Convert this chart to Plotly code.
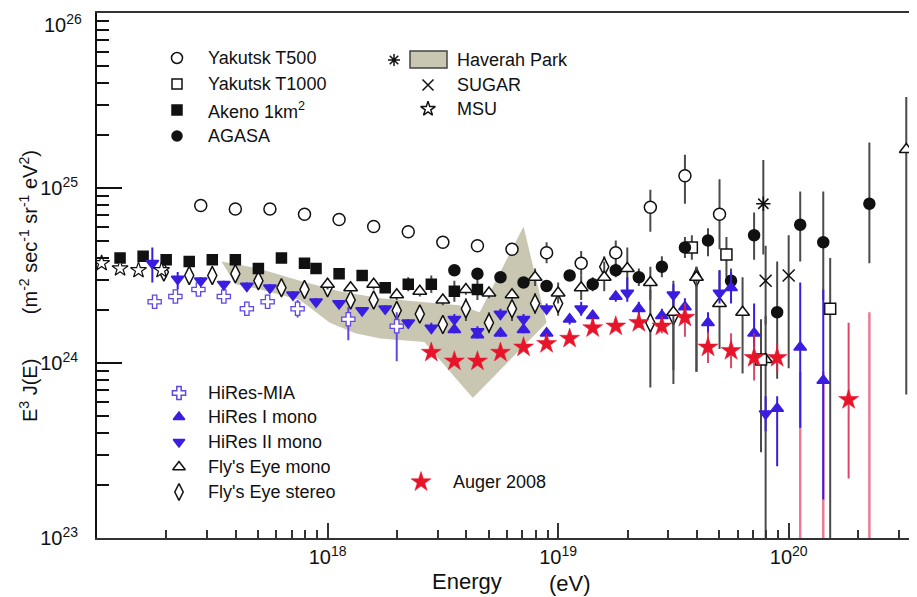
import numpy as np
import plotly.graph_objects as go

# 宇宙線能譜 E^3 J(E)，數值以 log10 儲存

# Yakutsk T500
yak500_lgE = [17.45, 17.60, 17.75, 17.90, 18.05, 18.20, 18.35, 18.50, 18.65, 18.80, 18.95, 19.10, 19.25, 19.40, 19.55, 19.70]
yak500_lgJ = [24.90, 24.88, 24.88, 24.85, 24.82, 24.78, 24.75, 24.69, 24.67, 24.65, 24.63, 24.57, 24.63, 24.89, 25.07, 24.85]
yak500_eu = [0.01, 0.01, 0.01, 0.01, 0.01, 0.01, 0.01, 0.01, 0.02, 0.03, 0.06, 0.07, 0.07, 0.10, 0.12, 0.20]
yak500_ed = [0.01, 0.01, 0.01, 0.01, 0.01, 0.01, 0.01, 0.01, 0.02, 0.03, 0.06, 0.07, 0.07, 0.14, 0.16, 0.20]

# Yakutsk T1000
yak1000_lgE = [19.58, 19.73, 19.88, 20.18]
yak1000_lgJ = [24.66, 24.62, 24.02, 24.31]
yak1000_eu = [0.07, 0.10, 0.23, 0.29]
yak1000_ed = [0.07, 0.13, 0.53, 1.40]

# Akeno 1km2
akeno_lgE = [17.10, 17.20, 17.30, 17.40, 17.50, 17.60, 17.70, 17.80, 17.90, 17.95, 18.05, 18.15, 18.25, 18.35, 18.45, 18.55, 18.65]
akeno_lgJ = [24.60, 24.61, 24.59, 24.58, 24.59, 24.59, 24.54, 24.60, 24.57, 24.54, 24.51, 24.50, 24.43, 24.45, 24.45, 24.41, 24.42]
akeno_eu = [0.01, 0.01, 0.01, 0.01, 0.01, 0.01, 0.01, 0.01, 0.01, 0.01, 0.02, 0.03, 0.03, 0.04, 0.05, 0.06, 0.06]
akeno_ed = [0.01, 0.01, 0.01, 0.01, 0.01, 0.01, 0.01, 0.01, 0.01, 0.01, 0.02, 0.03, 0.03, 0.04, 0.05, 0.06, 0.06]

# AGASA
agasa_lgE = [18.55, 18.65, 18.75, 18.85, 18.95, 19.05, 19.15, 19.25, 19.35, 19.45, 19.55, 19.65, 19.75, 19.85, 19.95, 20.05, 20.15, 20.35]
agasa_lgJ = [24.53, 24.51, 24.49, 24.46, 24.44, 24.50, 24.45, 24.53, 24.49, 24.55, 24.66, 24.70, 24.47, 24.73, 24.29, 24.79, 24.69, 24.91]
agasa_eu = [0.02, 0.02, 0.02, 0.03, 0.03, 0.03, 0.04, 0.04, 0.05, 0.06, 0.06, 0.07, 0.07, 0.13, 0.29, 0.19, 0.29, 0.35]
agasa_ed = [0.02, 0.02, 0.02, 0.03, 0.03, 0.03, 0.04, 0.04, 0.05, 0.06, 0.06, 0.09, 0.07, 0.14, 0.38, 0.21, 0.33, 0.34]

# Haverah Park（帶狀區 + 高能點）
hp_band_lgE = [17.54, 17.70, 17.88, 18.05, 18.23, 18.40, 18.57, 18.66, 18.85, 18.95, 18.63, 18.42, 18.23, 18.12, 18.01, 17.88, 17.71, 17.60]
hp_band_lgJ = [24.58, 24.54, 24.47, 24.41, 24.37, 24.35, 24.33, 24.29, 24.78, 24.23, 23.80, 24.12, 24.14, 24.17, 24.23, 24.36, 24.42, 24.45]
hp_lgE = [19.89]
hp_lgJ = [24.91]
hp_eu = [0.25]
hp_ed = [0.29]

# SUGAR
sugar_lgE = [19.90, 20.00]
sugar_lgJ = [24.47, 24.50]
sugar_eu = [0.20, 0.23]
sugar_ed = [0.25, 0.53]

# MSU
msu_lgE = [17.02, 17.10, 17.18, 17.28]
msu_lgJ = [24.57, 24.54, 24.53, 24.53]

# HiRes-MIA
mia_lgE = [17.25, 17.34, 17.44, 17.55, 17.65, 17.74, 17.87, 18.09, 18.30]
mia_lgJ = [24.35, 24.38, 24.42, 24.38, 24.31, 24.35, 24.31, 24.25, 24.21]
mia_eu = [0.02, 0.02, 0.03, 0.03, 0.04, 0.04, 0.05, 0.07, 0.08]
mia_ed = [0.02, 0.02, 0.03, 0.03, 0.04, 0.04, 0.05, 0.12, 0.20]

# HiRes I mono
hr1_lgE = [18.55, 18.65, 18.75, 18.85, 18.95, 19.05, 19.15, 19.25, 19.35, 19.45, 19.55, 19.65, 19.75, 19.85, 19.95, 20.05, 20.15]
hr1_lgJ = [24.19, 24.16, 24.17, 24.19, 24.17, 24.25, 24.27, 24.38, 24.31, 24.27, 24.32, 24.23, 24.43, 24.17, 23.74, 24.09, 23.90]
hr1_eu = [0.02, 0.02, 0.02, 0.02, 0.03, 0.03, 0.03, 0.03, 0.04, 0.04, 0.05, 0.06, 0.09, 0.17, 0.07, 0.37, 0.52]
hr1_ed = [0.02, 0.02, 0.02, 0.02, 0.03, 0.03, 0.03, 0.03, 0.04, 0.04, 0.05, 0.06, 0.09, 0.08, 0.33, 0.46, 0.68]

# HiRes II mono
hr2_lgE = [17.24, 17.35, 17.45, 17.55, 17.65, 17.75, 17.85, 17.95, 18.05, 18.15, 18.25, 18.35, 18.45, 18.55, 18.65, 18.75, 18.85, 18.95, 19.10, 19.30, 19.50, 19.70, 19.90]
hr2_lgJ = [24.57, 24.48, 24.47, 24.45, 24.44, 24.43, 24.39, 24.35, 24.34, 24.30, 24.31, 24.23, 24.20, 24.25, 24.18, 24.28, 24.25, 24.31, 24.31, 24.40, 24.39, 24.40, 23.71]
hr2_eu = [0.09, 0.04, 0.02, 0.02, 0.02, 0.02, 0.02, 0.02, 0.02, 0.02, 0.02, 0.02, 0.03, 0.03, 0.03, 0.03, 0.03, 0.03, 0.04, 0.09, 0.06, 0.13, 0.10]
hr2_ed = [0.11, 0.06, 0.02, 0.02, 0.02, 0.02, 0.02, 0.02, 0.02, 0.02, 0.02, 0.02, 0.03, 0.03, 0.03, 0.03, 0.03, 0.03, 0.04, 0.05, 0.06, 0.06, 0.10]

# Fly's Eye mono
fem_lgE = [18.00, 18.10, 18.20, 18.30, 18.40, 18.50, 18.60, 18.70, 18.80, 18.90, 19.00, 19.10, 19.20, 19.30, 19.40, 19.50, 19.60, 19.70, 19.80, 19.90, 20.51]
fem_lgJ = [24.45, 24.43, 24.45, 24.39, 24.41, 24.36, 24.42, 24.40, 24.39, 24.49, 24.40, 24.43, 24.49, 24.54, 24.46, 24.29, 24.49, 24.34, 24.29, 24.02, 25.22]
fem_eu = [0.03, 0.03, 0.03, 0.03, 0.03, 0.03, 0.03, 0.03, 0.03, 0.05, 0.06, 0.07, 0.09, 0.12, 0.09, 0.12, 0.06, 0.19, 0.20, 0.25, 0.30]
fem_ed = [0.03, 0.03, 0.03, 0.03, 0.03, 0.03, 0.03, 0.03, 0.03, 0.05, 0.06, 0.07, 0.08, 0.16, 0.10, 0.33, 0.54, 0.26, 0.35, 1.40, 1.40]

# Fly's Eye stereo
fes_lgE = [17.29, 17.40, 17.50, 17.60, 17.70, 17.80, 17.90, 18.00, 18.10, 18.20, 18.30, 18.40, 18.50, 18.60, 18.70, 18.80, 18.90, 19.00, 19.20, 19.40, 19.50, 19.60]
fes_lgJ = [24.52, 24.50, 24.50, 24.51, 24.47, 24.43, 24.42, 24.43, 24.36, 24.36, 24.30, 24.28, 24.22, 24.31, 24.23, 24.31, 24.34, 24.34, 24.55, 24.23, 24.27, 24.49]
fes_eu = [0.02, 0.02, 0.02, 0.02, 0.02, 0.02, 0.02, 0.02, 0.02, 0.02, 0.02, 0.02, 0.03, 0.06, 0.06, 0.07, 0.06, 0.07, 0.06, 0.19, 0.20, 0.06]
fes_ed = [0.02, 0.02, 0.02, 0.02, 0.02, 0.02, 0.02, 0.02, 0.02, 0.02, 0.02, 0.02, 0.03, 0.07, 0.06, 0.07, 0.06, 0.07, 0.06, 0.37, 0.39, 0.54]

# Auger 2008
auger_lgE = [18.45, 18.55, 18.65, 18.75, 18.85, 18.95, 19.05, 19.15, 19.25, 19.35, 19.45, 19.55, 19.65, 19.75, 19.85, 19.95, 20.26]
auger_lgJ = [24.06, 24.01, 24.01, 24.06, 24.09, 24.11, 24.14, 24.20, 24.21, 24.23, 24.21, 24.26, 24.09, 24.07, 24.03, 24.03, 23.79]
auger_eu = [0.01, 0.01, 0.01, 0.01, 0.01, 0.01, 0.02, 0.02, 0.02, 0.03, 0.04, 0.08, 0.09, 0.10, 0.14, 0.08, 0.44]
auger_ed = [0.01, 0.01, 0.01, 0.01, 0.01, 0.01, 0.02, 0.02, 0.02, 0.03, 0.04, 0.11, 0.09, 0.10, 0.13, 0.08, 0.45]
# Auger 上限（粉紅直線，延伸到下緣）
auger_ul_lgE = [20.05, 20.15, 20.35]
auger_ul_lgJ = [23.95, 23.95, 24.29]

BLACK = '#111111'
ERR_BLACK = '#4a4a4a'
BLUE = '#3a1ee0'
PURPLE = '#6247e6'
RED = '#e8142a'
PINK = 'rgba(228,80,115,0.75)'
BAND = '#c9c7b2'
FONT = 'Liberation Sans, Arial, sans-serif'

fig = go.Figure()


def add_series(lgE, lgJ, eu, ed, symbol, fill, line_color, size, err_color, lw=1.5):
    lgJ = np.array(lgJ)
    e = 10 ** np.array(lgE)
    j = 10 ** lgJ
    up = 10 ** (lgJ + np.array(eu)) - j
    dn = j - 10 ** (lgJ - np.array(ed))
    fig.add_trace(go.Scatter(
        x=e, y=j, mode='markers',
        marker=dict(symbol=symbol, size=size, color=fill, line=dict(color=line_color, width=lw)),
        error_y=dict(type='data', symmetric=False, array=up, arrayminus=dn,
                     color=err_color, thickness=2, width=0),
        showlegend=False))


# Haverah Park 帶狀區
fig.add_trace(go.Scatter(
    x=10 ** np.array(hp_band_lgE), y=10 ** np.array(hp_band_lgJ),
    fill='toself', fillcolor=BAND, mode='lines', line=dict(width=0, color=BAND),
    showlegend=False, hoverinfo='skip'))

# Auger 上限線
ul_x, ul_y = [], []
for lx, ly in zip(auger_ul_lgE, auger_ul_lgJ):
    ul_x += [10.0 ** lx, 10.0 ** lx, None]
    ul_y += [10.0 ** ly, 1e22, None]
fig.add_trace(go.Scatter(x=ul_x, y=ul_y, mode='lines', line=dict(color=PINK, width=2.5),
                         showlegend=False, hoverinfo='skip'))

add_series(fes_lgE, fes_lgJ, fes_eu, fes_ed, 'diamond-tall', 'white', BLACK, 13, ERR_BLACK)
add_series(fem_lgE, fem_lgJ, fem_eu, fem_ed, 'triangle-up', 'white', BLACK, 12, ERR_BLACK)
add_series(yak500_lgE, yak500_lgJ, yak500_eu, yak500_ed, 'circle', 'white', BLACK, 12, ERR_BLACK)
add_series(yak1000_lgE, yak1000_lgJ, yak1000_eu, yak1000_ed, 'square', 'white', BLACK, 11, ERR_BLACK)
add_series(akeno_lgE, akeno_lgJ, akeno_eu, akeno_ed, 'square', BLACK, BLACK, 10, ERR_BLACK)
add_series(agasa_lgE, agasa_lgJ, agasa_eu, agasa_ed, 'circle', BLACK, BLACK, 11, ERR_BLACK)
add_series(mia_lgE, mia_lgJ, mia_eu, mia_ed, 'cross', 'white', PURPLE, 11, PURPLE, lw=1.3)
add_series(hr2_lgE, hr2_lgJ, hr2_eu, hr2_ed, 'triangle-down', BLUE, BLUE, 11, BLUE)
add_series(hr1_lgE, hr1_lgJ, hr1_eu, hr1_ed, 'triangle-up', BLUE, BLUE, 11, BLUE)
add_series(auger_lgE, auger_lgJ, auger_eu, auger_ed, 'star', RED, RED, 15, 'rgba(215,40,80,0.85)', lw=0.5)
add_series(sugar_lgE, sugar_lgJ, sugar_eu, sugar_ed, 'x-thin-open', BLACK, BLACK, 12, ERR_BLACK)
add_series(msu_lgE, msu_lgJ, [0] * len(msu_lgE), [0] * len(msu_lgE), 'star', 'white', BLACK, 12, ERR_BLACK, lw=1.2)
add_series(hp_lgE, hp_lgJ, hp_eu, hp_ed, 'asterisk-open', BLACK, BLACK, 12, ERR_BLACK)

# 圖例（以像素座標的覆蓋軸繪製；座標為頁面像素）
legend_items = [
    # (symbol, fill, line, size, x, y, text, text_x)
    ('circle', 'white', BLACK, 11, 177, 58, 'Yakutsk T500', 206),
    ('square', 'white', BLACK, 10, 177, 84, 'Yakutsk T1000', 206),
    ('square', BLACK, BLACK, 10, 177, 110, 'Akeno 1km<sup>2</sup>', 206),
    ('circle', BLACK, BLACK, 10, 177, 136, 'AGASA', 206),
    ('asterisk-open', BLACK, BLACK, 10, 394, 60, 'Haverah Park', 455),
    ('x-thin-open', BLACK, BLACK, 11, 428, 85, 'SUGAR', 455),
    ('star', 'white', BLACK, 11, 428, 109, 'MSU', 455),
    ('cross', 'white', PURPLE, 11, 179, 393, 'HiRes-MIA', 206),
    ('triangle-up', BLUE, BLUE, 10, 179, 417, 'HiRes I mono', 206),
    ('triangle-down', BLUE, BLUE, 10, 179, 442, 'HiRes II mono', 206),
    ('triangle-up', 'white', BLACK, 11, 179, 467, "Fly's Eye mono", 206),
    ('diamond-tall', 'white', BLACK, 12, 179, 492, "Fly's Eye stereo", 206),
    ('star', RED, RED, 15, 421, 482, 'Auger 2008', 451),
]
annotations = []
for sym, fill, lc, sz, mx, my, txt, tx in legend_items:
    fig.add_trace(go.Scatter(
        x=[mx], y=[my], xaxis='x2', yaxis='y2', mode='markers',
        marker=dict(symbol=sym, size=sz, color=fill, line=dict(color=lc, width=1.5 if sym != 'star' or fill == 'white' else 0.5)),
        showlegend=False, hoverinfo='skip'))
    annotations.append(dict(x=tx, y=my, xref='x2', yref='y2', text=txt, showarrow=False,
                            xanchor='left', yanchor='middle', font=dict(size=18, color=BLACK)))

shapes = [dict(type='rect', xref='x2', yref='y2', x0=410, x1=447, y0=51, y1=68,
               fillcolor=BAND, line=dict(color='#444444', width=1.5), layer='below')]


# 頁面像素 -> paper 座標（繪圖區為 x 97..916, y 13..538）
def px_x(x):
    return (x - 97) / 819


def px_y(y):
    return (538 - y) / 525


annotations.append(dict(
    x=px_x(28), y=px_y(286), xref='paper', yref='paper', textangle=-90, showarrow=False,
    text='E<sup>3</sup> J(E)        (m<sup>-2</sup> sec<sup>-1</sup> sr<sup>-1</sup> eV<sup>2</sup>)',
    font=dict(size=20, color=BLACK), xanchor='center', yanchor='middle'))
annotations.append(dict(x=px_x(467), y=px_y(581), xref='paper', yref='paper', text='Energy',
                        showarrow=False, xanchor='center', yanchor='middle', font=dict(size=22, color=BLACK)))
annotations.append(dict(x=px_x(570), y=px_y(583), xref='paper', yref='paper', text='(eV)',
                        showarrow=False, xanchor='center', yanchor='middle', font=dict(size=22, color=BLACK)))
# 最上方的 10^26 刻度文字（太靠近頁緣，改以註解繪製）
annotations.append(dict(x=px_x(84), y=px_y(23), xref='paper', yref='paper', text='10<sup>26</sup>',
                        showarrow=False, xanchor='right', yanchor='middle', font=dict(size=20, color=BLACK)))

x_minor = [m * 10.0 ** d for d in range(17, 21) for m in range(2, 10)]
y_minor = [m * 10.0 ** d for d in range(23, 26) for m in range(2, 10)]

# 頁面 body 預設有 8px 邊距，因此圖寬高與邊距各扣 8px
fig.update_layout(
    width=909, height=589,
    margin=dict(l=89, r=1, t=5, b=59),
    plot_bgcolor='white', paper_bgcolor='white',
    font=dict(family=FONT, color=BLACK),
    showlegend=False,
    annotations=annotations,
    shapes=shapes,
    xaxis=dict(
        type='log', range=[17, 20.5522], automargin=False,
        tickvals=[1e18, 1e19, 1e20],
        ticktext=['10<sup>18</sup>', '10<sup>19</sup>', '10<sup>20</sup>'],
        ticks='inside', ticklen=15, tickwidth=2, tickcolor='#333333',
        minor=dict(tickvals=x_minor, ticks='inside', ticklen=8, tickwidth=1.5, tickcolor='#333333', showgrid=False),
        showgrid=False, zeroline=False,
        showline=True, linecolor='#333333', linewidth=2, mirror=True,
        tickfont=dict(size=20, color=BLACK),
    ),
    yaxis=dict(
        type='log', range=[23, 26], automargin=False,
        tickvals=[1e23, 1e24, 1e25, 1e26],
        ticktext=['10<sup>23</sup>', '10<sup>24</sup>', '10<sup>25</sup>', ''],
        ticks='inside', ticklen=25, tickwidth=2, tickcolor='#111111',
        minor=dict(tickvals=y_minor, ticks='inside', ticklen=12, tickwidth=1.5, tickcolor='#111111', showgrid=False),
        showgrid=False, zeroline=False,
        showline=True, linecolor='#111111', linewidth=2, mirror=True,
        tickfont=dict(size=20, color=BLACK), ticklabelstandoff=13,
    ),
    xaxis2=dict(overlaying='x', anchor='y2', range=[97, 916], visible=False),
    yaxis2=dict(overlaying='y', anchor='x2', range=[538, 13], visible=False),
)

fig.write_html("out.html")
